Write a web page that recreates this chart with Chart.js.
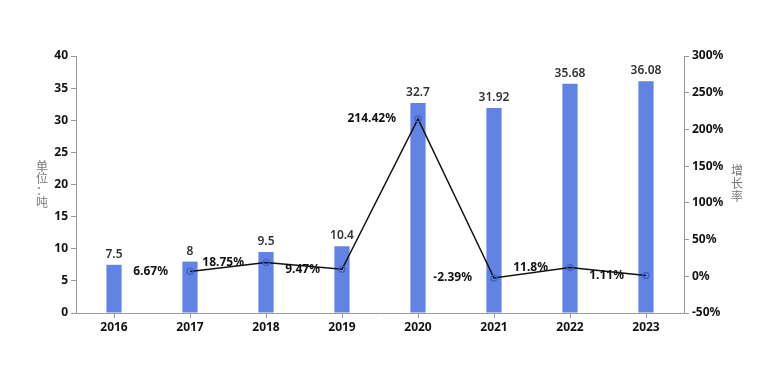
<!DOCTYPE html>
<html>
<head>
<meta charset="utf-8">
<script src="https://cdn.jsdelivr.net/npm/chart.js@4"></script>
<style>
  html, body { margin: 0; padding: 0; background: #fff; }
  #wrap { width: 760px; height: 380px; }
</style>
</head>
<body>
<div id="wrap"><canvas id="chart" width="760" height="380"></canvas></div>
<script>
// data
var years = ["2016", "2017", "2018", "2019", "2020", "2021", "2022", "2023"];
var output = [7.5, 8, 9.5, 10.4, 32.7, 31.92, 35.68, 36.08];
var growth = [null, 6.67, 18.75, 9.47, 214.42, -2.39, 11.8, 1.11];
var leftTitle = ["单", "位", "：", "吨"];
var rightTitle = ["增", "长", "率"];

var FONT = "'Noto Sans', 'Noto Sans CJK SC', sans-serif";

// value labels + stacked axis titles
var labelPlugin = {
    id: "labels",
    afterDatasetsDraw: function (chart) {
        var ctx = chart.ctx;
        ctx.save();

        // bar labels
        var barMeta = chart.getDatasetMeta(0);
        ctx.font = "600 12px " + FONT;
        ctx.fillStyle = "#333";
        ctx.textAlign = "center";
        ctx.textBaseline = "alphabetic";
        barMeta.data.forEach(function (bar, i) {
            ctx.fillText(String(output[i]), bar.x, bar.y - 7);
        });

        // line labels, left of the point
        var lineMeta = chart.getDatasetMeta(1);
        ctx.font = "bold 12px " + FONT;
        ctx.fillStyle = "#111";
        ctx.textAlign = "right";
        ctx.textBaseline = "middle";
        lineMeta.data.forEach(function (pt, i) {
            if (growth[i] === null) return;
            ctx.fillText(growth[i] + "%", pt.x - 22, pt.y);
        });

        // axis titles, characters stacked upright
        ctx.font = "12px " + FONT;
        ctx.fillStyle = "#777";
        ctx.textAlign = "center";
        leftTitle.forEach(function (c, i) {
            ctx.fillText(c, 42, 168 + i * 12);
        });
        rightTitle.forEach(function (c, i) {
            ctx.fillText(c, 737, 172 + i * 13);
        });
        ctx.restore();
    }
};

var ctx = document.getElementById("chart").getContext("2d");
var myChart = new Chart(ctx, {
    type: "bar",
    data: {
        labels: years,
        datasets: [{
            type: "bar",
            label: "产量",
            data: output,
            backgroundColor: "#6283e4",
            barPercentage: 0.2,
            categoryPercentage: 1,
            yAxisID: "y",
            order: 2
        }, {
            type: "line",
            label: "增长率",
            data: growth,
            borderColor: "#111",
            borderWidth: 1.5,
            pointRadius: 3,
            pointBorderColor: "#3f5fc8",
            pointBackgroundColor: "rgba(255,255,255,0)",
            pointBorderWidth: 1.2,
            tension: 0,
            yAxisID: "y1",
            order: 1
        }]
    },
    options: {
        responsive: false,
        animation: false,
        layout: { padding: { left: 0, right: 0, top: 56, bottom: 0 } },
        plugins: {
            legend: { display: false },
            tooltip: { enabled: false }
        },
        scales: {
            x: {
                grid: { offset: false, drawOnChartArea: false, color: "#999", tickLength: 5 },
                border: { color: "#999" },
                ticks: { color: "#111", font: { family: FONT, size: 12, weight: "bold" }, padding: 2 },
                afterFit: function (s) { s.height = 67; }
            },
            y: {
                position: "left",
                min: 0,
                max: 40,
                grid: { drawOnChartArea: false, color: "#999", tickLength: 5 },
                border: { color: "#999" },
                ticks: { stepSize: 5, color: "#111", font: { family: FONT, size: 12, weight: "bold" }, padding: 3 },
                afterFit: function (s) { s.width = 76; }
            },
            y1: {
                position: "right",
                min: -50,
                max: 300,
                grid: { drawOnChartArea: false, color: "#999", tickLength: 5 },
                border: { color: "#999" },
                ticks: {
                    stepSize: 50,
                    color: "#111",
                    font: { family: FONT, size: 12, weight: "bold" },
                    padding: 3,
                    callback: function (v) { return v + "%"; }
                },
                afterFit: function (s) { s.width = 76; }
            }
        }
    },
    plugins: [labelPlugin]
});
</script>
</body>
</html>
